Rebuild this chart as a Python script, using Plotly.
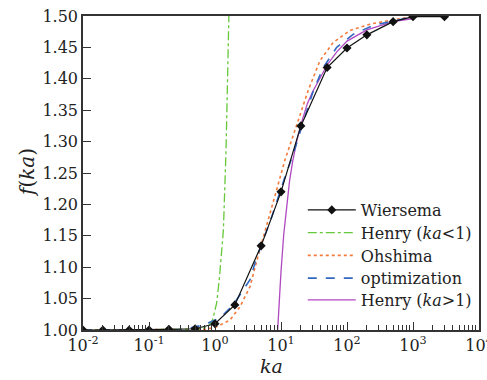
import plotly.graph_objects as go

# ---- data ----
ka_wiersema = [0.01, 0.02, 0.05, 0.1, 0.2, 0.5, 1, 2, 5, 10, 20, 50, 100, 200, 500, 1000, 3000]
f_wiersema = [1.000, 1.000, 1.000, 1.000, 1.001, 1.002, 1.010, 1.040, 1.134, 1.220, 1.325,
              1.418, 1.449, 1.470, 1.491, 1.499, 1.499]

ka_henry_small = [0.01, 0.1, 0.42, 0.59, 0.78, 0.92, 1.06, 1.16, 1.34, 1.47, 1.63, 1.70]
f_henry_small = [1.000, 1.000, 1.001, 1.002, 1.005, 1.016, 1.043, 1.080, 1.159, 1.287, 1.500, 1.600]

ka_ohshima = [0.01, 0.42, 0.71, 1.06, 1.69, 2.39, 3.39, 4.53, 7.23, 11.5, 18.3, 25.9, 39.0,
              62.0, 111, 223, 498, 1000]
f_ohshima = [1.000, 1.000, 1.001, 1.005, 1.016, 1.037, 1.069, 1.119, 1.196, 1.271, 1.334,
             1.382, 1.429, 1.458, 1.477, 1.487, 1.494, 1.499]

ka_opt = [0.01, 0.3, 0.67, 1.19, 1.89, 3.39, 4.18, 5.39, 7.23, 11.5, 15.4, 23.1, 30.9, 43.8,
          69.8, 125, 250, 503, 1000]
f_opt = [1.000, 1.000, 1.008, 1.019, 1.040, 1.080, 1.112, 1.143, 1.180, 1.244, 1.281, 1.340,
         1.381, 1.418, 1.450, 1.471, 1.485, 1.492, 1.499]

ka_henry_large = [8.9, 9.5, 10, 11, 12, 13.5, 15, 17.5, 20, 25, 30, 40, 50, 70, 100, 200, 500, 1000]
f_henry_large = [1.000, 1.055, 1.093, 1.152, 1.193, 1.238, 1.268, 1.303, 1.327, 1.360, 1.379,
                 1.404, 1.422, 1.443, 1.460, 1.478, 1.491, 1.496]

x_tickvals = [0.01, 0.1, 1, 10, 100, 1000, 10000]
x_ticktext = ["10<sup>-2</sup>", "10<sup>-1</sup>", "10<sup>0</sup>", "10<sup>1</sup>",
              "10<sup>2</sup>", "10<sup>3</sup>", "10<sup>4</sup>"]
y_ticks = [1.00, 1.05, 1.10, 1.15, 1.20, 1.25, 1.30, 1.35, 1.40, 1.45, 1.50]

FONT = "DejaVu Serif"
TXT = "#222222"

fig = go.Figure()
fig.add_trace(go.Scatter(x=ka_henry_large, y=f_henry_large, mode="lines",
                         name="Henry (<i>ka</i>&gt;1)", legend="legend5",
                         line=dict(color="#b048c0", width=1.3)))
fig.add_trace(go.Scatter(x=ka_ohshima, y=f_ohshima, mode="lines",
                         name="Ohshima", legend="legend3",
                         line=dict(color="#f47a3a", width=1.6, dash="dot")))
fig.add_trace(go.Scatter(x=ka_henry_small, y=f_henry_small, mode="lines",
                         name="Henry (<i>ka</i>&lt;1)", legend="legend2",
                         line=dict(color="#66c83a", width=1.3, dash="dashdot")))
fig.add_trace(go.Scatter(x=ka_opt, y=f_opt, mode="lines",
                         name="optimization", legend="legend4",
                         line=dict(color="#3468c0", width=1.6, dash="dash")))
fig.add_trace(go.Scatter(x=ka_wiersema, y=f_wiersema, mode="lines+markers",
                         name="Wiersema", legend="legend", showlegend=True,
                         line=dict(color="#111111", width=1.2),
                         marker=dict(symbol="diamond", size=7, color="#111111")))

axis_common = dict(showline=True, linecolor="#333333", linewidth=1.5, mirror=True,
                   showgrid=False, zeroline=False, ticks="inside", ticklen=8,
                   tickcolor="#333333", tickwidth=1.2, automargin=False,
                   ticklabeloverflow="allow",
                   tickfont=dict(family=FONT, size=16, color=TXT))

fig.update_xaxes(type="log", range=[-2, 4], tickvals=x_tickvals, ticktext=x_ticktext,
                 minor=dict(ticks="inside", ticklen=5, tickcolor="#333333", dtick="D1",
                            showgrid=False),
                 **axis_common)
fig.update_yaxes(range=[1.0, 1.5], tickvals=y_ticks, tickformat=".2f", **axis_common)

plot_top, plot_bottom = 16, 330
rows = [210, 232.75, 255.5, 278.25, 300]
legend_names = ["legend", "legend2", "legend3", "legend4", "legend5"]
leg_style = dict(x=0.555, xanchor="left", yanchor="middle", bgcolor="rgba(0,0,0,0)",
                 itemwidth=48, font=dict(family=FONT, size=16, color=TXT))
legend_layout = {}
for name, ry in zip(legend_names, rows):
    legend_layout[name] = dict(y=(plot_bottom - ry) / (plot_bottom - plot_top), **leg_style)

fig.update_layout(
    width=487, height=380,
    margin=dict(l=83, r=8, t=16, b=50),
    plot_bgcolor="white", paper_bgcolor="white",
    showlegend=True,
    font=dict(family=FONT, size=16, color=TXT),
    **legend_layout,
    annotations=[
        dict(text="<i>ka</i>", xref="paper", yref="paper", x=0.477, y=0, yshift=-36,
             xanchor="center", yanchor="middle", showarrow=False,
             font=dict(family=FONT, size=19, color=TXT)),
        dict(text="<i>f</i>(<i>ka</i>)", xref="paper", yref="paper", x=0, y=0.5, xshift=-56,
             xanchor="center", yanchor="middle", textangle=-90, showarrow=False,
             font=dict(family=FONT, size=20, color=TXT)),
    ],
)

fig.write_html("out.html",
               config={"displayModeBar": False},
               post_script="document.body.style.margin='0';document.body.style.overflow='hidden';")
